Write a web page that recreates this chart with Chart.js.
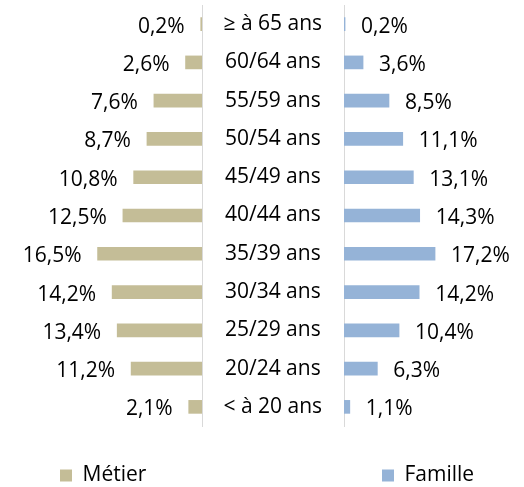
<!DOCTYPE html>
<html>
<head>
<meta charset="utf-8">
<script src="https://cdn.jsdelivr.net/npm/chart.js@4/dist/chart.umd.min.js"></script>
<style>
  html, body { margin: 0; padding: 0; background: #fff; overflow: hidden; }
  #wrap { position: relative; width: 524px; height: 487px; overflow: hidden; }
  canvas { position: absolute; top: 0; }
  #left { left: 0; }
  #right { left: 343px; }
</style>
</head>
<body>
<div id="wrap">
  <canvas id="left" width="343" height="496"></canvas>
  <canvas id="right" width="181" height="496"></canvas>
</div>
<script>
// Age groups, top to bottom
const ageGroups = ['≥ à 65 ans', '60/64 ans', '55/59 ans', '50/54 ans', '45/49 ans', '40/44 ans',
  '35/39 ans', '30/34 ans', '25/29 ans', '20/24 ans', '< à 20 ans'];
const metier = [0.2, 2.6, 7.6, 8.7, 10.8, 12.5, 16.5, 14.2, 13.4, 11.2, 2.1];
const famille = [0.2, 3.6, 8.5, 11.1, 13.1, 14.3, 17.2, 14.2, 10.4, 6.3, 1.1];

const FONT = 'Open Sans';
const fmt = v => v.toFixed(1).replace('.', ',') + '%';

// draws the value next to each bar end
const valueLabels = {
  id: 'valueLabels',
  afterDatasetsDraw(chart, args, opts) {
    const ctx = chart.ctx;
    const meta = chart.getDatasetMeta(0);
    const data = chart.data.datasets[0].data;
    ctx.save();
    ctx.font = '21px "' + FONT + '"';
    ctx.fillStyle = '#000';
    ctx.textBaseline = 'middle';
    meta.data.forEach((bar, i) => {
      if (opts.side === 'left') {
        ctx.textAlign = 'right';
        ctx.fillText(fmt(data[i]), bar.x - 16, bar.y + 2.5);
      } else {
        ctx.textAlign = 'left';
        ctx.fillText(fmt(data[i]), bar.x + 16, bar.y + 2.5);
      }
    });
    ctx.restore();
  }
};

const legendOpts = {
  position: 'bottom',
  align: 'start',
  labels: {
    boxWidth: 12,
    boxHeight: 12,
    padding: 39,
    color: '#000',
    font: { family: FONT, size: 21 }
  }
};

// no extra room above/below the first and last tick label
function fixAxis(width) {
  return scale => {
    scale.width = width;
    scale.paddingTop = 0;
    scale.paddingBottom = 0;
  };
}

new Chart(document.getElementById('left'), {
  type: 'bar',
  data: {
    labels: ageGroups,
    datasets: [{
      label: 'Métier',
      data: metier,
      backgroundColor: '#C4BD97',
      barThickness: 13
    }]
  },
  options: {
    indexAxis: 'y',
    responsive: false,
    animation: false,
    layout: { padding: { left: 21, top: 5, bottom: 0 } },
    scales: {
      x: { display: false, reverse: true, min: 0, max: 28.6 },
      y: {
        position: 'right',
        grid: { drawOnChartArea: false, drawTicks: false },
        border: { color: '#d9d9d9', width: 1 },
        ticks: {
          color: '#000',
          font: { family: FONT, size: 21 },
          crossAlign: 'center',
          padding: 21.5
        },
        afterFit: fixAxis(141)
      }
    },
    plugins: {
      legend: legendOpts,
      tooltip: { enabled: false },
      valueLabels: { side: 'left' }
    }
  },
  plugins: [valueLabels]
});

new Chart(document.getElementById('right'), {
  type: 'bar',
  data: {
    labels: ageGroups,
    datasets: [{
      label: 'Famille',
      data: famille,
      backgroundColor: '#95B3D7',
      barThickness: 13
    }]
  },
  options: {
    indexAxis: 'y',
    responsive: false,
    animation: false,
    layout: { padding: { left: 0, top: 5, bottom: 0 } },
    scales: {
      x: { display: false, min: 0, max: 34 },
      y: {
        position: 'left',
        grid: { drawOnChartArea: false, drawTicks: false },
        border: { color: '#d9d9d9', width: 1 },
        ticks: { display: false },
        afterFit: fixAxis(1)
      }
    },
    plugins: {
      legend: legendOpts,
      tooltip: { enabled: false },
      valueLabels: { side: 'right' }
    }
  },
  plugins: [valueLabels]
});
</script>
</body>
</html>
